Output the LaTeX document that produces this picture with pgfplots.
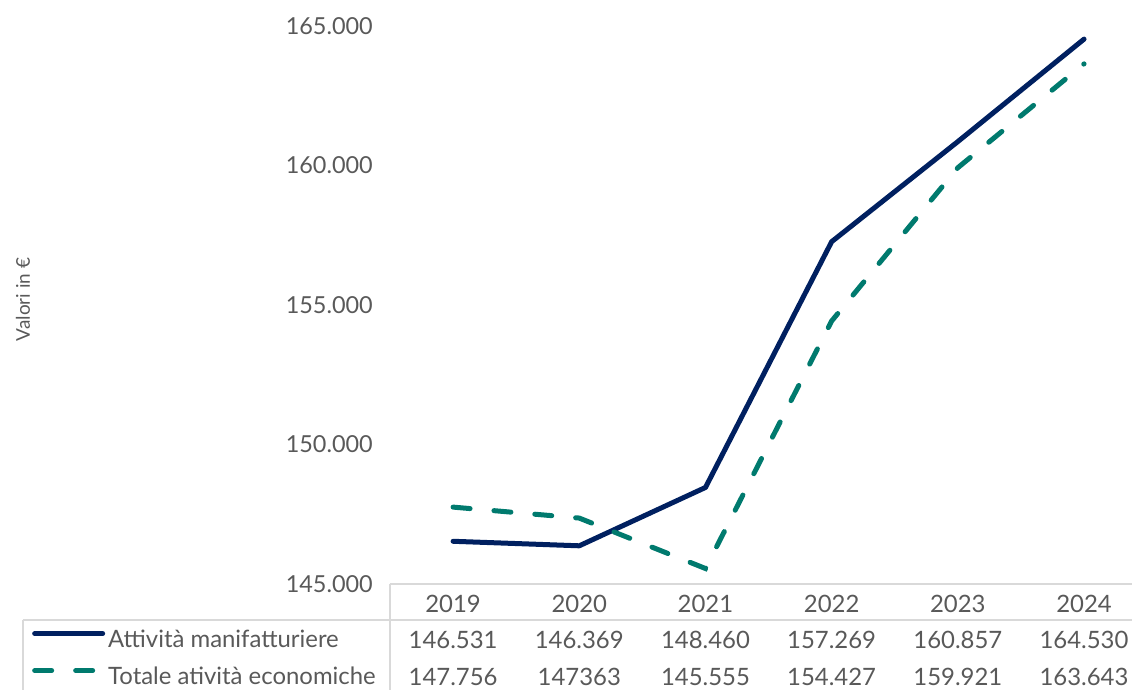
\documentclass[border=0pt]{standalone}
\usepackage{pgfplots}
\pgfplotsset{compat=1.18}
\usepackage{fontspec}
\setmainfont{Lato}
\definecolor{navy}{HTML}{002060}
\definecolor{teal2}{HTML}{007A6E}
\definecolor{txt}{HTML}{595959}
\definecolor{grid}{HTML}{D9D9D9}
\begin{document}
\begin{tikzpicture}
\useasboundingbox (-390bp,-106bp) rectangle (742bp,584bp);
\begin{axis}[
  scale only axis,
  width=742bp, height=558bp,
  xmin=-0.5, xmax=5.38,
  ymin=145000, ymax=165000,
  ytick={145000,150000,155000,160000,165000},
  scaled y ticks=false,
  xtick={0,1,2,3,4,5},
  xticklabels={2019\\146.531\\147.756, 2020\\146.369\\147363, 2021\\148.460\\145.555, 2022\\157.269\\154.427, 2023\\160.857\\159.921, 2024\\164.530\\163.643},
  axis x line=bottom, axis y line=left,
  x axis line style={draw=grid, line width=1.3bp, -},
  y axis line style={draw=none},
  major tick length=0pt,
  clip=false,
  /pgf/number format/.cd, fixed, precision=0, 1000 sep={.}, assume math mode=true,
  /pgfplots/.cd,
  yticklabel style={anchor=east, inner sep=0pt, xshift=-17bp, font=\fontsize{23.5}{28}\selectfont, text=txt},
  xticklabel style={anchor=north, inner sep=0pt, yshift=-11bp, align=center, font=\fontsize{24}{36.5}\selectfont, text=txt},
  ylabel={Valori in €},
  ylabel style={at={(axis description cs:-0.4946,0.51)}, anchor=center, rotate=0, font=\fontsize{19}{22}\selectfont, text=txt},
  legend style={at={(axis description cs:-0.4825,-0.0815)}, anchor=north west, draw=none, fill=none, inner sep=0pt,
    font=\fontsize{24}{28}\selectfont, text=txt, row sep=15bp,
    nodes={text height=17.5bp, text depth=4.5bp, inner sep=0pt, inner xsep=0pt}},
  legend cell align=left,
  legend image code/.code={\draw[#1] (0bp,7bp) -- (68bp,7bp);},
]
\addplot[navy, line width=5bp, line cap=round, line join=round] coordinates {
  (0,146531) (1,146369) (2,148460) (3,157269) (4,160857) (5,164530)};
\addlegendentry{\hspace{3bp}Attività manifatturiere}
\addplot[teal2, line width=5bp, line cap=round, dash pattern=on 17bp off 24bp] coordinates {
  (0,147756) (1,147363) (2,145555) (3,154427) (4,159921) (5,163643)};
\addlegendentry{\hspace{3bp}Totale atività economiche}
\draw[grid, line width=1.3bp] (axis description cs:-0.4946,-0.0645) -- (axis description cs:1,-0.0645);
\draw[grid, line width=1.3bp] (axis description cs:0,0) -- (axis description cs:0,-0.19);
\draw[grid, line width=1.3bp] (axis description cs:-0.4946,-0.0645) -- (axis description cs:-0.4946,-0.19);
\end{axis}
\end{tikzpicture}
\end{document}
